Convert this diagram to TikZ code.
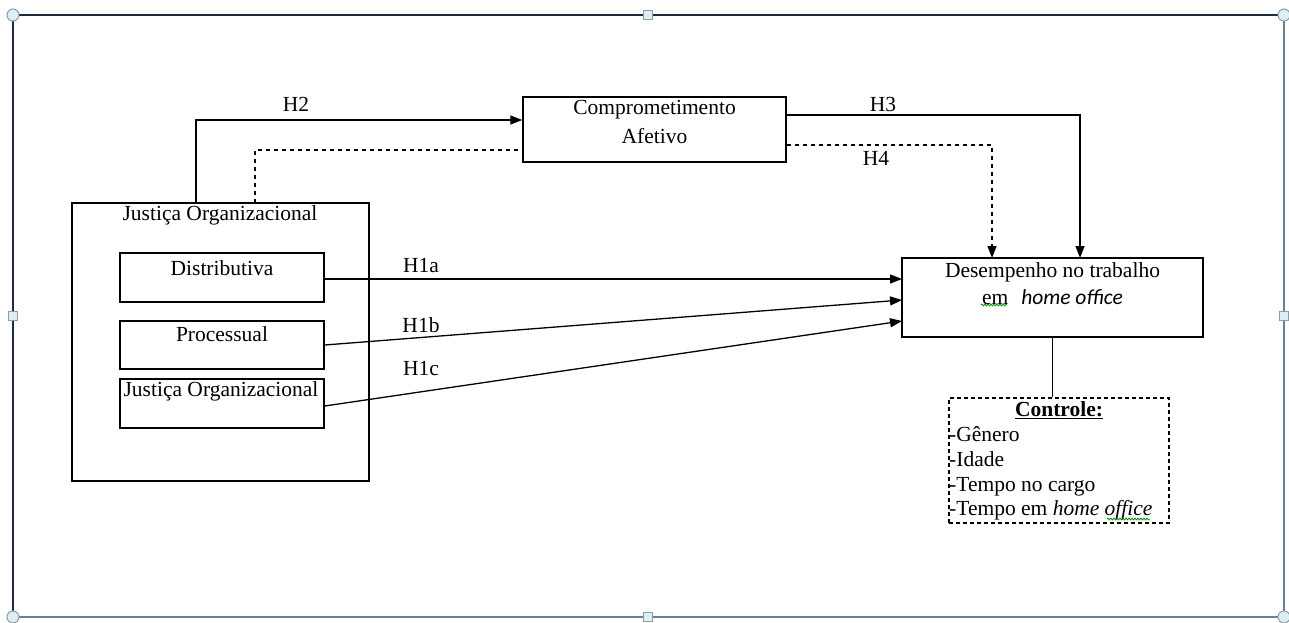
\documentclass[tikz,border=0pt]{standalone}
\usepackage{fontspec}
\setmainfont{Liberation Serif}
\newfontfamily\carl{Carlito}
\usetikzlibrary{arrows.meta,decorations.pathmorphing}
\definecolor{frdark}{HTML}{1E2A3A}
\definecolor{frlight}{HTML}{6B7F90}
\definecolor{hfill}{HTML}{DDEFF5}
\definecolor{hdraw}{HTML}{8C9CA6}
\begin{document}
\begin{tikzpicture}[x=1pt,y=-1pt,
  every node/.style={font=\fontsize{21.5}{25}\selectfont, inner sep=0pt},
  box/.style={draw, line width=1.4pt, fill=white},
  dbox/.style={draw, line width=1.3pt, dash pattern=on 4pt off 3pt},
  conn/.style={line width=1.3pt},
  arr/.style={conn, -{Triangle[length=12pt,width=9pt]}},
  dconn/.style={line width=1.3pt, dash pattern=on 4pt off 4pt},
  darr/.style={dconn, -{Triangle[length=12pt,width=9pt]}},
  frameA/.style={draw=frdark, line width=2.2pt},
  frameB/.style={draw=frlight, line width=1.5pt},
  hc/.style={circle, draw=hdraw, fill=hfill, line width=1pt, minimum size=12pt},
  hs/.style={rectangle, draw=hdraw, fill=hfill, line width=1pt, minimum size=9pt},
  ctlitem/.style={anchor=base west},
  squig/.style={draw=green!55!black, line width=0.8pt, decorate, decoration={snake, amplitude=0.9pt, segment length=3pt}}
]
\useasboundingbox (0,0) rectangle (1289,623);
\fill[white] (0,0) rectangle (1289,623);
% frame
\coordinate (ftl) at (13,15);
\coordinate (ftr) at (1284,15);
\coordinate (fbl) at (13,617);
\coordinate (fbr) at (1284,617);
\draw[frameB] (fbl) -- (fbr) -- (ftr);
\draw[frameA] (fbl) -- (ftl) -- (ftr);
\node[hc] (h1) at (ftl) {};
\node[hc] (h2) at (ftr) {};
\node[hc] (h3) at (fbl) {};
\node[hc] (h4) at (fbr) {};
\node[hs] (h5) at (648,15) {};
\node[hs] (h6) at (648,617) {};
\node[hs] (h7) at (13,316) {};
\node[hs] (h8) at (1284,316) {};

% boxes
\node[box, minimum width=263pt, minimum height=65pt] (ca) at (654.5,129.5) {};
\node (cat1) at (654.5,110) {Comprometimento};
\node (cat2) at (654.5,136) {Afetivo};

\node[box, minimum width=297pt, minimum height=278pt] (jo) at (220.5,342) {};
\node (jot) at (220,215) {Justiça Organizacional};

\node[box, minimum width=204pt, minimum height=49pt] (dist) at (222,277.5) {};
\node (distt) at (222,268) {Distributiva};
\node[box, minimum width=204pt, minimum height=48pt] (proc) at (222,345) {};
\node (proct) at (222,334) {Processual};
\node[box, minimum width=204pt, minimum height=49pt] (joi) at (222,403.5) {};
\node (joit) at (221,391) {Justiça Organizacional};

\node[box, minimum width=301pt, minimum height=79pt] (des) at (1052.5,297.5) {};
\node (dest1) at (1052.5,272) {Desempenho no trabalho};
\node (dest2) at (1052.5,297) {em\hspace{0.6em}{\carl\itshape home office}};
\draw[squig] (981,305) -- (1007,305);

\node[dbox, minimum width=220pt, minimum height=125pt] (ctl) at (1059,460.5) {};
\node (ctlt) at (1059,410) {\textbf{\underline{Controle:}}};
\node[ctlitem] (c1) at (949,441) {-Gênero};
\node[ctlitem] (c2) at (949,466) {-Idade};
\node[ctlitem] (c3) at (949,491) {-Tempo no cargo};
\node[ctlitem] (c4) at (949,515) {-Tempo em {\itshape home office}};
\draw[squig] (1107,519) -- (1150,519);

% connectors
\draw[conn] (des.south) -- (ctl.north -| des.south);

\coordinate (jh2) at (196,203);
\draw[arr] (jh2) -- (196,120) -- (ca.west |- 0,120);
\node (lh2) at (296,104) {H2};
\coordinate (jd) at (255,203);
\draw[dconn] (jd) -- (255,150) -- (ca.west |- 0,150);

\draw[arr] (ca.east |- 0,115) -- (1080,115) -- (1080,258);
\node (lh3) at (883,104) {H3};
\draw[darr] (ca.east |- 0,145) -- (992,145) -- (992,258);
\node (lh4) at (876,158) {H4};

\draw[arr] (dist.east |- 0,279) -- (902,279);
\node (lh1a) at (421,266) {H1a};
\draw[arr] (proc.east |- 0,345) -- (902,300);
\node (lh1b) at (421,325) {H1b};
\draw[arr] (joi.east |- 0,406) -- (902,321);
\node (lh1c) at (421,369) {H1c};
\end{tikzpicture}
\end{document}
